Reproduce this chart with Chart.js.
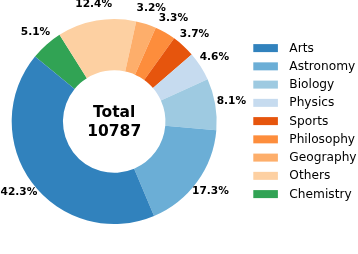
<!DOCTYPE html>
<html><head><meta charset="utf-8">
<script src="https://cdn.jsdelivr.net/npm/chart.js@4/dist/chart.umd.min.js"></script>
<style>html,body{margin:0;padding:0;background:#fff;}#wrap{width:358px;height:254px;}</style>
</head><body><div id="wrap"><canvas id="c" width="358" height="254"></canvas></div>
<script>
const categories = ["Arts","Astronomy","Biology","Physics","Sports","Philosophy","Geography","Others","Chemistry"];
const percents = [42.3,17.3,8.1,4.6,3.7,3.3,3.2,12.4,5.1];
const colors = ["#3182bd","#6baed6","#9ecae1","#c6dbef","#e6550d","#fd8d3c","#fdae6b","#fdd0a2","#31a354"];
const totalLabel = "Total";
const totalValue = "10787";

// matplotlib draws counter-clockwise; Chart.js clockwise -> reverse order for drawing
const drawOrder = categories.map((_, i) => categories.length - 1 - i);
const dLabels = drawOrder.map(i => categories[i]);
const dValues = drawOrder.map(i => percents[i]);
const dColors = drawOrder.map(i => colors[i]);

const FONT = "'DejaVu Sans', sans-serif";

const overlay = {
  id: 'overlay',
  afterDraw(chart) {
    const ctx = chart.ctx;
    const meta = chart.getDatasetMeta(0);
    ctx.save();
    // percentage labels
    ctx.fillStyle = '#000';
    ctx.font = 'bold 10.6px ' + FONT;
    ctx.textAlign = 'center';
    ctx.textBaseline = 'middle';
    meta.data.forEach((arc, k) => {
      const p = arc.getProps(['x','y','startAngle','endAngle','outerRadius'], true);
      const mid = (p.startAngle + p.endAngle) / 2;
      const r = p.outerRadius * 1.16;
      ctx.fillText(dValues[k].toFixed(1) + '%', p.x + Math.cos(mid) * r, p.y + Math.sin(mid) * r);
    });
    // centre text
    const a0 = meta.data[0];
    ctx.font = 'bold 15.5px ' + FONT;
    ctx.textBaseline = 'alphabetic';
    ctx.fillText(totalLabel, a0.x, a0.y - 4.3);
    ctx.fillText(totalValue, a0.x, a0.y + 14.4);
    // legend
    ctx.font = '12.2px ' + FONT;
    ctx.textAlign = 'left';
    categories.forEach((name, i) => {
      const base = 51.7 + i * 18.25;
      ctx.fillStyle = colors[i];
      ctx.fillRect(253.3, base - 7.6, 24.6, 8);
      ctx.fillStyle = '#000';
      ctx.fillText(name, 289.3, base);
    });
    ctx.restore();
  }
};

new Chart(document.getElementById('c'), {
  type: 'doughnut',
  data: { labels: dLabels, datasets: [{ data: dValues, backgroundColor: dColors, borderWidth: 0, hoverOffset: 0 }] },
  options: {
    responsive: false,
    animation: false,
    cutout: '50%',
    rotation: -50.6,
    layout: { padding: { left: 11.7, top: 19, right: 141.3, bottom: 30 } },
    plugins: { legend: { display: false }, tooltip: { enabled: false } },
    events: []
  },
  plugins: [overlay]
});
</script></body></html>
